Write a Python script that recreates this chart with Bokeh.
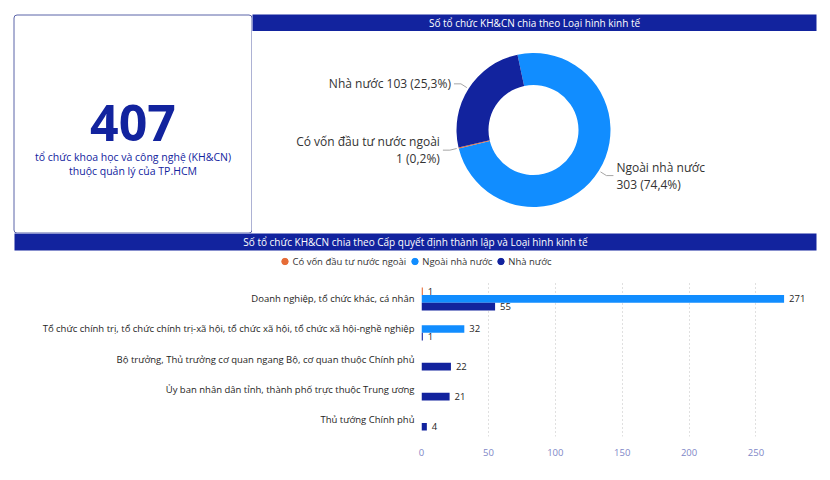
import math
from bokeh.plotting import figure
from bokeh.layouts import column, row
from bokeh.models import (ColumnDataSource, Range1d, FactorRange, BoxAnnotation,
                          Legend, LegendItem)
from bokeh.transform import dodge
from bokeh.core.properties import value
from bokeh.embed import file_html
from bokeh.resources import INLINE

# ---------------- data ----------------
card_lines = ["tổ chức khoa học và công nghệ (KH&CN)", "thuộc quản lý của TP.HCM"]
donut_title = "Số tổ chức KH&CN chia theo Loại hình kinh tế"
bar_title = "Số tổ chức KH&CN chia theo Cấp quyết định thành lập và Loại hình kinh tế"

donut_names = ["Ngoài nhà nước", "Có vốn đầu tư nước ngoài", "Nhà nước"]
donut_values = [303, 1, 103]

categories = [
    "Doanh nghiệp, tổ chức khác, cá nhân",
    "Tổ chức chính trị, tổ chức chính trị-xã hội, tổ chức xã hội, tổ chức xã hội-nghề nghiệp",
    "Bộ trưởng, Thủ trưởng cơ quan ngang Bộ, cơ quan thuộc Chính phủ",
    "Ủy ban nhân dân tỉnh, thành phố trực thuộc Trung ương",
    "Thủ tướng Chính phủ",
]
series_names = ["Có vốn đầu tư nước ngoài", "Ngoài nhà nước", "Nhà nước"]
co_von = [1, 0, 0, 0, 0]
ngoai_nha_nuoc = [271, 32, 0, 0, 0]
nha_nuoc = [55, 1, 22, 21, 4]
x_ticks = [0, 50, 100, 150, 200, 250]

# ---------------- style ----------------
FONT = value("Open Sans")
DARK = "#12239E"
LIGHT = "#118DFF"
ORANGE = "#E66C37"
TXT = "#252423"
colors = {"Có vốn đầu tư nước ngoài": ORANGE, "Ngoài nhà nước": LIGHT, "Nhà nước": DARK}


def blank(w, h, xr=(0, 1), yr=(0, 1), **kw):
    p = figure(width=w, height=h, output_backend="svg", toolbar_location=None,
               x_range=Range1d(*xr), y_range=Range1d(*yr),
               x_axis_location=None, y_axis_location=None,
               min_border=0, frame_align=False, **kw)
    p.grid.grid_line_color = None
    p.outline_line_color = None
    return p


# ---------------- KPI card ----------------
CW, CH = 245, 226
card = blank(CW, CH, xr=(0, CW), yr=(0, CH))
card.add_layout(BoxAnnotation(left=6.5, right=244.5, top=218.5, bottom=0.5, fill_color="white",
                              fill_alpha=1, line_color="#5A64A8", line_alpha=1, line_width=1,
                              border_radius=3, level="underlay"))
total = sum(donut_values)
card.text(x=[125.5], y=[110.5], text=[str(total)], text_font=FONT, text_font_style="bold",
          text_font_size="50px", text_color=DARK, text_align="center", text_baseline="middle")
card.text(x=[125.5, 125.5], y=[77, 63], text=card_lines, text_font=FONT,
          text_font_size="10.5px", text_color=DARK, text_align="center", text_baseline="middle")

# ---------------- donut title ----------------
dt = blank(569, 24, min_border_top=7, min_border_right=5,
           background_fill_color=DARK, border_fill_color="white")
dt.text(x=[0.5], y=[0.5], text=[donut_title], text_font=FONT, text_font_size="10px",
        text_color="white", text_align="center", text_baseline="middle")

# ---------------- donut ----------------
DW, DH = 569, 202
dn = blank(DW, DH, xr=(0, DW), yr=(0, DH))
cx, cy, r_in, r_out = 281, 103.5, 45, 77
start_deg = 102
cum = 0
wed = dict(s=[], e=[], c=[])
lead_xs, lead_ys = [], []
lx, ly, ltxt, lal = [], [], [], []
for name, v in zip(donut_names, donut_values):
    a0 = start_deg - cum / total * 360
    a1 = a0 - v / total * 360
    cum += v
    wed["s"].append(math.radians(a1))
    wed["e"].append(math.radians(a0))
    wed["c"].append(colors[name])
    m = math.radians((a0 + a1) / 2)
    p1 = (cx + 79 * math.cos(m), cy + 79 * math.sin(m))
    p2 = (cx + 86 * math.cos(m), cy + 86 * math.sin(m))
    side = 1 if math.cos(m) > 0 else -1
    p3 = (p2[0] + side * 7, p2[1])
    lead_xs.append([p1[0], p2[0], p3[0]])
    lead_ys.append([p1[1], p2[1], p3[1]])
    pct = f"{v / total * 100:.1f}".replace(".", ",")
    if len(name) > 10:
        t = f"{name}\n{v} ({pct}%)"
    else:
        t = f"{name} {v} ({pct}%)"
    lx.append(p3[0] + side * 3)
    ly.append(p3[1])
    ltxt.append(t)
    lal.append("left" if side > 0 else "right")

dn.annular_wedge(x=cx, y=cy, inner_radius=r_in, outer_radius=r_out,
                 start_angle="s", end_angle="e", color="c", line_color=None,
                 source=ColumnDataSource(wed))
dn.multi_line(xs=lead_xs, ys=lead_ys, line_color="#A6A6A6", line_width=1)
dn.text(x="x", y="y", text="t", text_align="a",
        source=ColumnDataSource(dict(x=lx, y=ly, t=ltxt, a=lal)),
        text_font=FONT, text_font_size="12px", text_color="#333333",
        text_baseline="middle", text_line_height=1.0)

# ---------------- bar title ----------------
bt = blank(814, 18, min_border_left=7, min_border_right=5, min_border_bottom=1,
           background_fill_color=DARK, border_fill_color="white")
bt.text(x=[0.5], y=[0.5], text=[bar_title], text_font=FONT, text_font_size="10px",
        text_color="white", text_align="center", text_baseline="middle")

# ---------------- legend strip ----------------
lg = blank(814, 20)
items = []
for n in series_names:
    r = lg.scatter(x=[float("nan")], y=[float("nan")], marker="circle", color=colors[n])
    items.append(LegendItem(label=n, renderers=[r]))
legend = Legend(items=items, orientation="horizontal", location="center",
                label_text_font="Open Sans", label_text_font_size="9.5px",
                label_text_color="#333333",
                glyph_width=16, glyph_height=16, label_height=12, label_standoff=-2,
                spacing=0, padding=0, margin=0, border_line_color=None,
                background_fill_alpha=0)
lg.add_layout(legend, "center")

# ---------------- bar chart ----------------
bar = figure(width=814, height=200, output_backend="svg", toolbar_location=None,
             x_range=Range1d(0, 290),
             y_range=FactorRange(factors=categories[::-1], range_padding=0.033,
                                 range_padding_units="percent"),
             min_border=0, min_border_left=414, min_border_right=12,
             min_border_top=10, min_border_bottom=35, frame_align=False)
bar.outline_line_color = None
bw = 0.257
series = [(series_names[0], co_von, bw), (series_names[1], ngoai_nha_nuoc, 0.0),
          (series_names[2], nha_nuoc, -bw)]
for name, vals, off in series:
    keep = [(c, v) for c, v in zip(categories, vals) if v > 0]
    src = ColumnDataSource(dict(cat=[k[0] for k in keep], v=[k[1] for k in keep],
                                lab=[str(k[1]) for k in keep]))
    bar.hbar(y=dodge("cat", off, range=bar.y_range), right="v", left=0, height=bw,
             color=colors[name], line_color=None, source=src)
    bar.text(x="v", y=dodge("cat", off, range=bar.y_range), text="lab", source=src,
             x_offset=5, text_font=FONT, text_font_size="9.5px", text_color=TXT,
             text_align="left", text_baseline="middle")

bar.xaxis.ticker = x_ticks
bar.xaxis.axis_line_color = None
bar.xaxis.major_tick_line_color = None
bar.xaxis.minor_tick_line_color = None
bar.xaxis.major_tick_out = 0
bar.xaxis.major_label_standoff = 12
bar.xaxis.major_label_text_font = "Open Sans"
bar.xaxis.major_label_text_font_size = "9.5px"
bar.xaxis.major_label_text_color = "#8087C7"

bar.yaxis.axis_line_color = None
bar.yaxis.major_tick_line_color = None
bar.yaxis.major_tick_out = 0
bar.yaxis.major_label_standoff = 7
bar.yaxis.major_label_text_font = "Open Sans"
bar.yaxis.major_label_text_font_size = "9.5px"
bar.yaxis.major_label_text_color = TXT

bar.xgrid.grid_line_color = "#C0C0C0"
bar.xgrid.grid_line_dash = "1 3"
bar.ygrid.grid_line_color = None

layout = column(row(card, column(dt, dn, spacing=0), spacing=0), bt, lg, bar, spacing=0,
                margin=(7, 0, 0, 7))

open("out.html", "w").write(file_html(layout, INLINE))
